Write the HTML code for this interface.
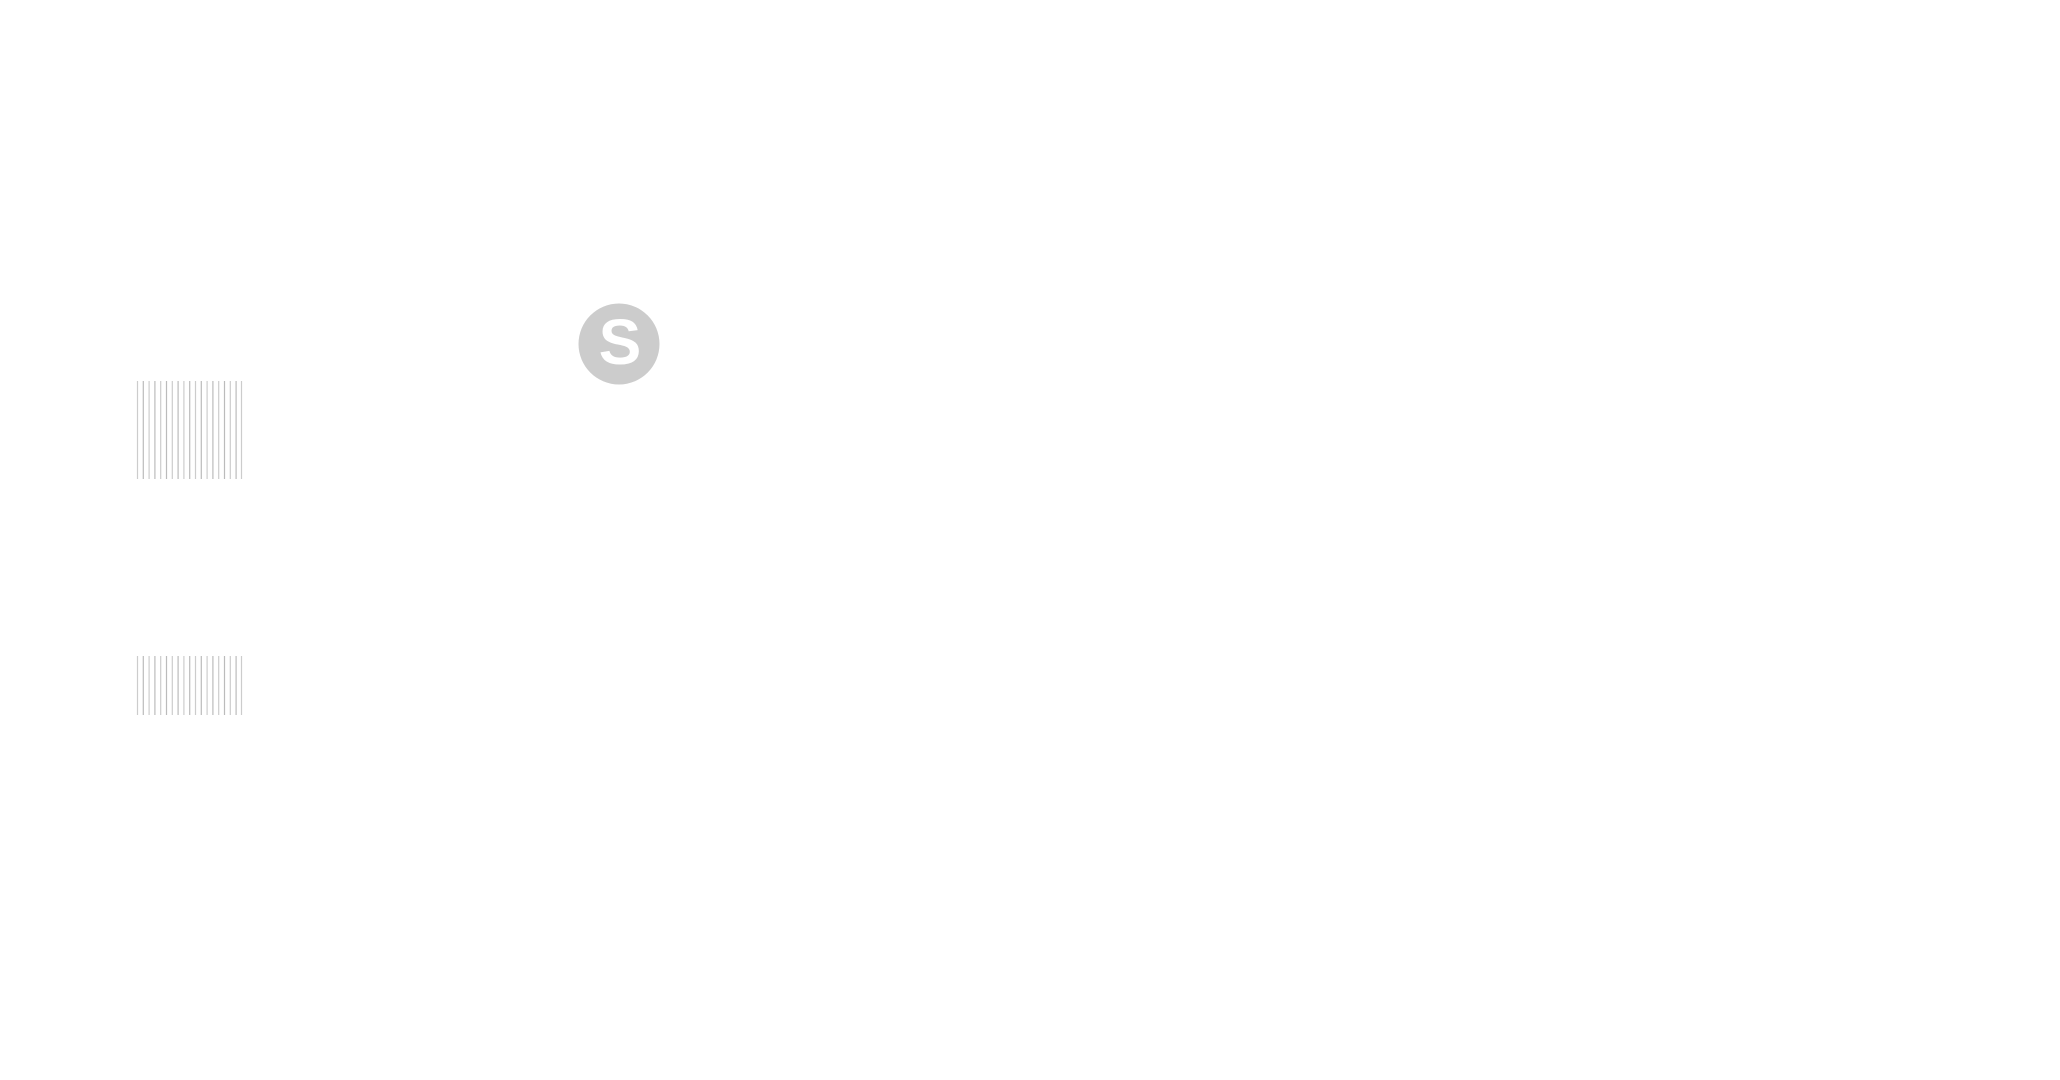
<!DOCTYPE html>
<html><head><meta charset="utf-8"><style>html,body{margin:0;padding:0;background:#fff;width:2060px;height:1080px;overflow:hidden}</style></head>
<body>
<svg width="2060" height="1080" xmlns="http://www.w3.org/2000/svg">
<rect width="2060" height="1080" fill="#fff"/>
<g stroke-width="1.2">
<line x1="137.5" y1="381" x2="137.5" y2="479" stroke="#ccc"/>
<line x1="143.3" y1="381" x2="143.3" y2="479" stroke="#bbb"/>
<line x1="149.1" y1="381" x2="149.1" y2="479" stroke="#ccc"/>
<line x1="154.9" y1="381" x2="154.9" y2="479" stroke="#bbb"/>
<line x1="160.7" y1="381" x2="160.7" y2="479" stroke="#ccc"/>
<line x1="166.5" y1="381" x2="166.5" y2="479" stroke="#bbb"/>
<line x1="172.3" y1="381" x2="172.3" y2="479" stroke="#ccc"/>
<line x1="178.1" y1="381" x2="178.1" y2="479" stroke="#bbb"/>
<line x1="183.9" y1="381" x2="183.9" y2="479" stroke="#ccc"/>
<line x1="189.7" y1="381" x2="189.7" y2="479" stroke="#bbb"/>
<line x1="195.5" y1="381" x2="195.5" y2="479" stroke="#ccc"/>
<line x1="201.3" y1="381" x2="201.3" y2="479" stroke="#bbb"/>
<line x1="207.1" y1="381" x2="207.1" y2="479" stroke="#ccc"/>
<line x1="212.9" y1="381" x2="212.9" y2="479" stroke="#bbb"/>
<line x1="218.7" y1="381" x2="218.7" y2="479" stroke="#ccc"/>
<line x1="224.5" y1="381" x2="224.5" y2="479" stroke="#bbb"/>
<line x1="230.3" y1="381" x2="230.3" y2="479" stroke="#ccc"/>
<line x1="236.1" y1="381" x2="236.1" y2="479" stroke="#bbb"/>
<line x1="241.5" y1="381" x2="241.5" y2="479" stroke="#ccc"/>
</g>
<g stroke-width="1.2">
<line x1="137.5" y1="656" x2="137.5" y2="715" stroke="#ccc"/>
<line x1="143.3" y1="656" x2="143.3" y2="715" stroke="#bbb"/>
<line x1="149.1" y1="656" x2="149.1" y2="715" stroke="#ccc"/>
<line x1="154.9" y1="656" x2="154.9" y2="715" stroke="#bbb"/>
<line x1="160.7" y1="656" x2="160.7" y2="715" stroke="#ccc"/>
<line x1="166.5" y1="656" x2="166.5" y2="715" stroke="#bbb"/>
<line x1="172.3" y1="656" x2="172.3" y2="715" stroke="#ccc"/>
<line x1="178.1" y1="656" x2="178.1" y2="715" stroke="#bbb"/>
<line x1="183.9" y1="656" x2="183.9" y2="715" stroke="#ccc"/>
<line x1="189.7" y1="656" x2="189.7" y2="715" stroke="#bbb"/>
<line x1="195.5" y1="656" x2="195.5" y2="715" stroke="#ccc"/>
<line x1="201.3" y1="656" x2="201.3" y2="715" stroke="#bbb"/>
<line x1="207.1" y1="656" x2="207.1" y2="715" stroke="#ccc"/>
<line x1="212.9" y1="656" x2="212.9" y2="715" stroke="#bbb"/>
<line x1="218.7" y1="656" x2="218.7" y2="715" stroke="#ccc"/>
<line x1="224.5" y1="656" x2="224.5" y2="715" stroke="#bbb"/>
<line x1="230.3" y1="656" x2="230.3" y2="715" stroke="#ccc"/>
<line x1="236.1" y1="656" x2="236.1" y2="715" stroke="#bbb"/>
<line x1="241.5" y1="656" x2="241.5" y2="715" stroke="#ccc"/>
</g>
<circle cx="619" cy="344" r="40.5" fill="#cccccc"/>
<text x="620" y="364" text-anchor="middle" font-family="Liberation Sans, sans-serif" font-weight="bold" font-size="64" fill="#fff">S</text>
</svg>
</body></html>
